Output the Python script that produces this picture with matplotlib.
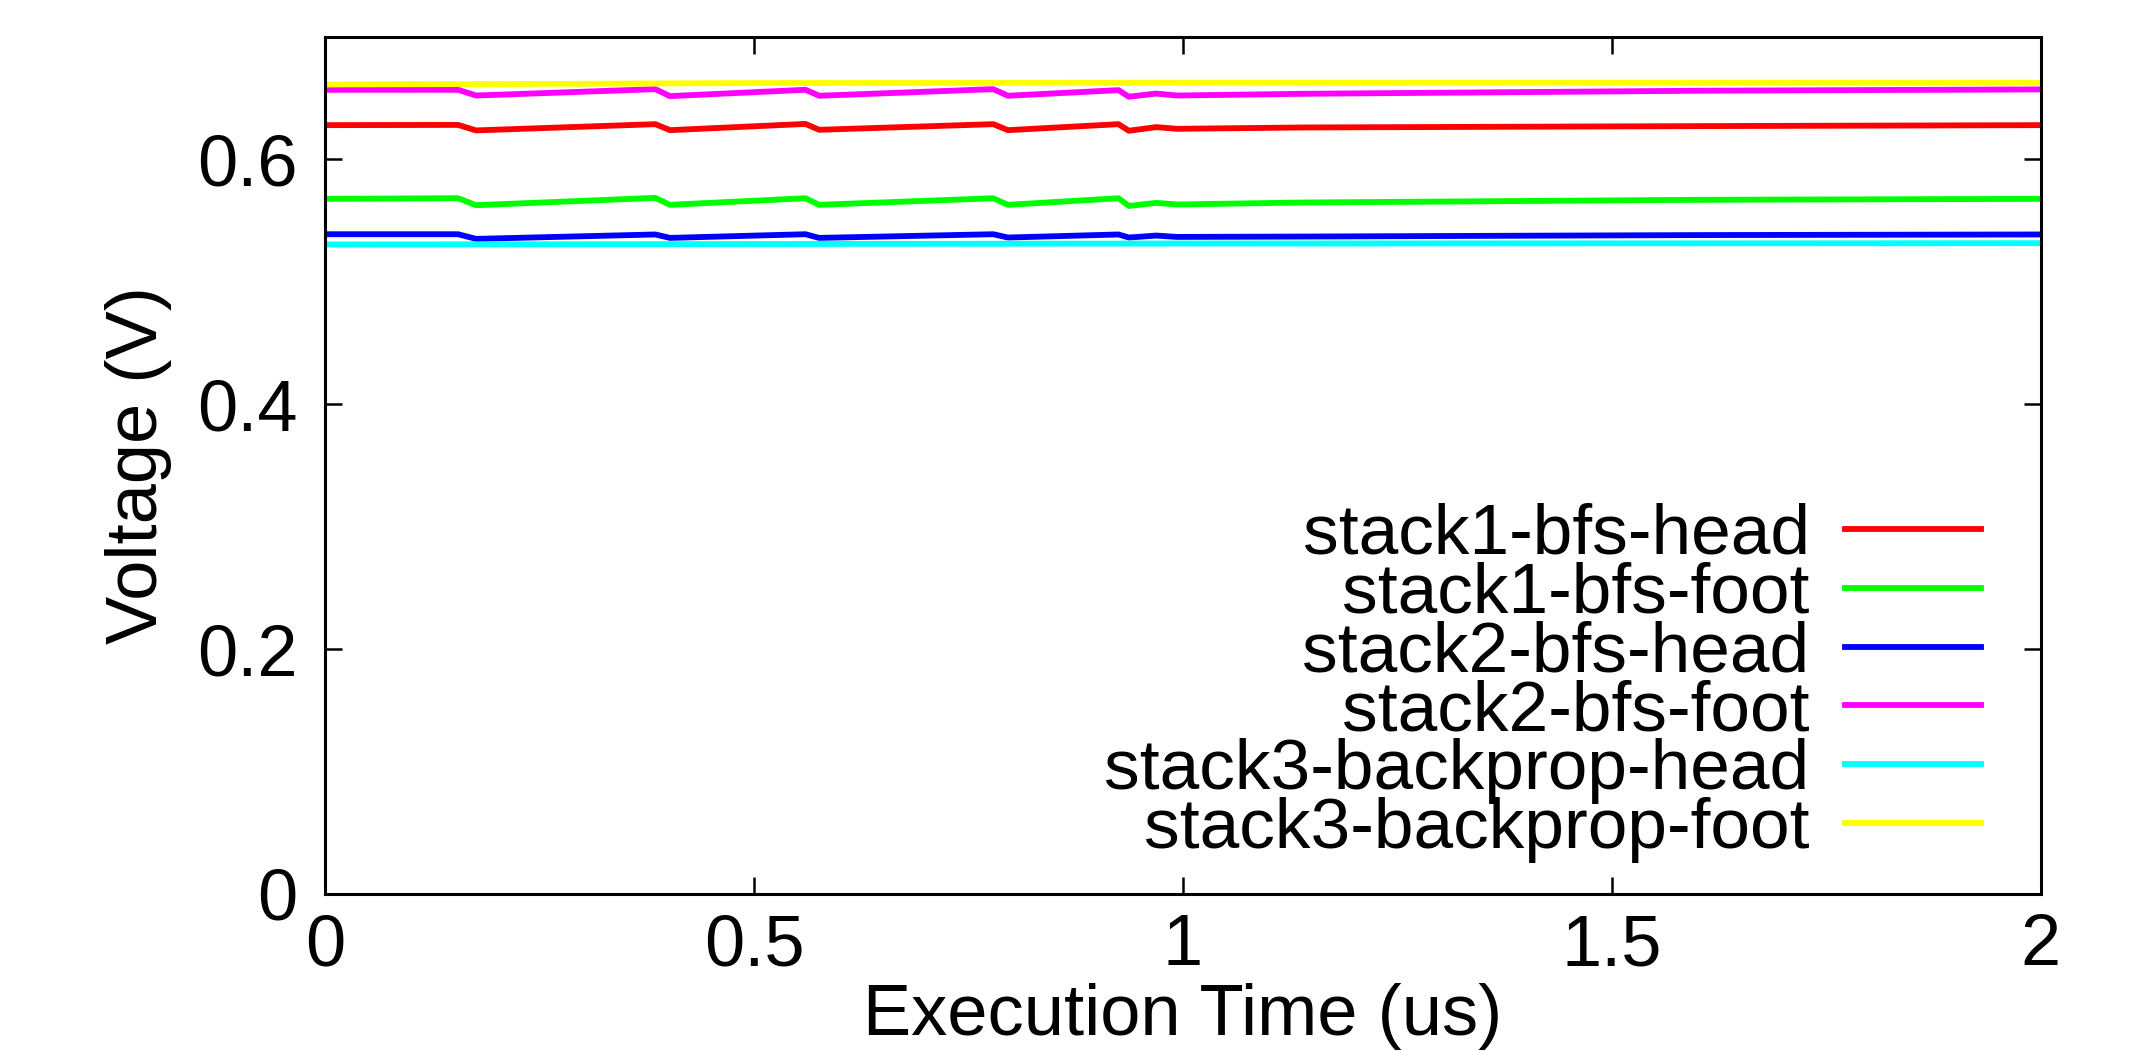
# voltage traces of the stacked layers during execution

import numpy as np
import matplotlib
matplotlib.use('Agg')
import matplotlib.pyplot as plt

plt.rcParams['font.family'] = ['Liberation Sans', 'DejaVu Sans']

# Data (time in us, voltage in V)
t_dip = [0, 0.155, 0.176, 0.385, 0.402, 0.56, 0.576, 0.779, 0.796,
         0.925, 0.937, 0.969, 0.993, 1.14, 1.6, 2.0]

s1_head = [0.6280, 0.6282, 0.6237, 0.6288, 0.6239, 0.6290, 0.6242, 0.6288, 0.6239,
           0.6288, 0.6234, 0.6264, 0.6250, 0.6261, 0.6272, 0.6280]
s1_foot = [0.5678, 0.5683, 0.5626, 0.5686, 0.5629, 0.5683, 0.5629, 0.5683, 0.5629,
           0.5683, 0.5620, 0.5645, 0.5632, 0.5648, 0.5670, 0.5678]
s2_head = [0.5389, 0.5389, 0.5351, 0.5387, 0.5359, 0.5389, 0.5359, 0.5389, 0.5362,
           0.5387, 0.5362, 0.5378, 0.5367, 0.5370, 0.5382, 0.5387]
s2_foot = [0.6569, 0.6569, 0.6522, 0.6574, 0.6517, 0.6569, 0.6520, 0.6574, 0.6520,
           0.6566, 0.6512, 0.6538, 0.6522, 0.6536, 0.6561, 0.6572]

t_flat = [0, 0.3, 0.5, 1.0, 2.0]
s3_head = [0.5305, 0.5307, 0.5309, 0.5313, 0.5316]
s3_foot = [0.6612, 0.6618, 0.6624, 0.6626, 0.6626]

labels = ['stack1-bfs-head', 'stack1-bfs-foot', 'stack2-bfs-head',
          'stack2-bfs-foot', 'stack3-backprop-head', 'stack3-backprop-foot']
colors = ['#ff0000', '#00ff00', '#0000ff', '#ff00ff', '#00ffff', '#ffff00']

xticks = [0, 0.5, 1, 1.5, 2]
xtick_labels = ['0', '0.5', '1', '1.5', '2']
yticks = [0, 0.2, 0.4, 0.6]
ytick_labels = ['0', '0.2', '0.4', '0.6']

fig = plt.figure(figsize=(21.39, 10.51), dpi=100)
ax = fig.add_axes([0.152, 0.1494, 0.802, 0.8154])

series = [(t_dip, s1_head), (t_dip, s1_foot), (t_dip, s2_head),
          (t_dip, s2_foot), (t_flat, s3_head), (t_flat, s3_foot)]
for (t, v), lab, c in zip(series, labels, colors):
    ax.plot(t, v, '-', color=c, lw=4.2, label=lab, solid_joinstyle='round')

ax.set_xlim(0, 2)
ax.set_ylim(0, 0.7)
ax.set_xticks(xticks)
ax.set_xticklabels(xtick_labels)
ax.set_yticks(yticks)
ax.set_yticklabels(ytick_labels)

fs = 52
ax.tick_params(direction='in', length=12, width=1.8, labelsize=fs,
               top=True, right=True)
ax.tick_params(axis='y', pad=20)
ax.tick_params(axis='x', pad=14)
for sp in ax.spines.values():
    sp.set_linewidth(2.2)

ax.set_xlabel('Execution Time (us)', fontsize=fs, labelpad=2)
ax.set_ylabel('Voltage (V)', fontsize=fs, labelpad=18)

# legend: text on the left, sample line on the right, no box
leg = ax.legend(loc='lower right', bbox_to_anchor=(0.965, 0.036), frameon=False,
                fontsize=51.3, markerfirst=False, handlelength=1.9,
                handletextpad=0.5, labelspacing=-0.1, borderpad=0,
                borderaxespad=0)

fig.savefig('out.png', dpi=100)
